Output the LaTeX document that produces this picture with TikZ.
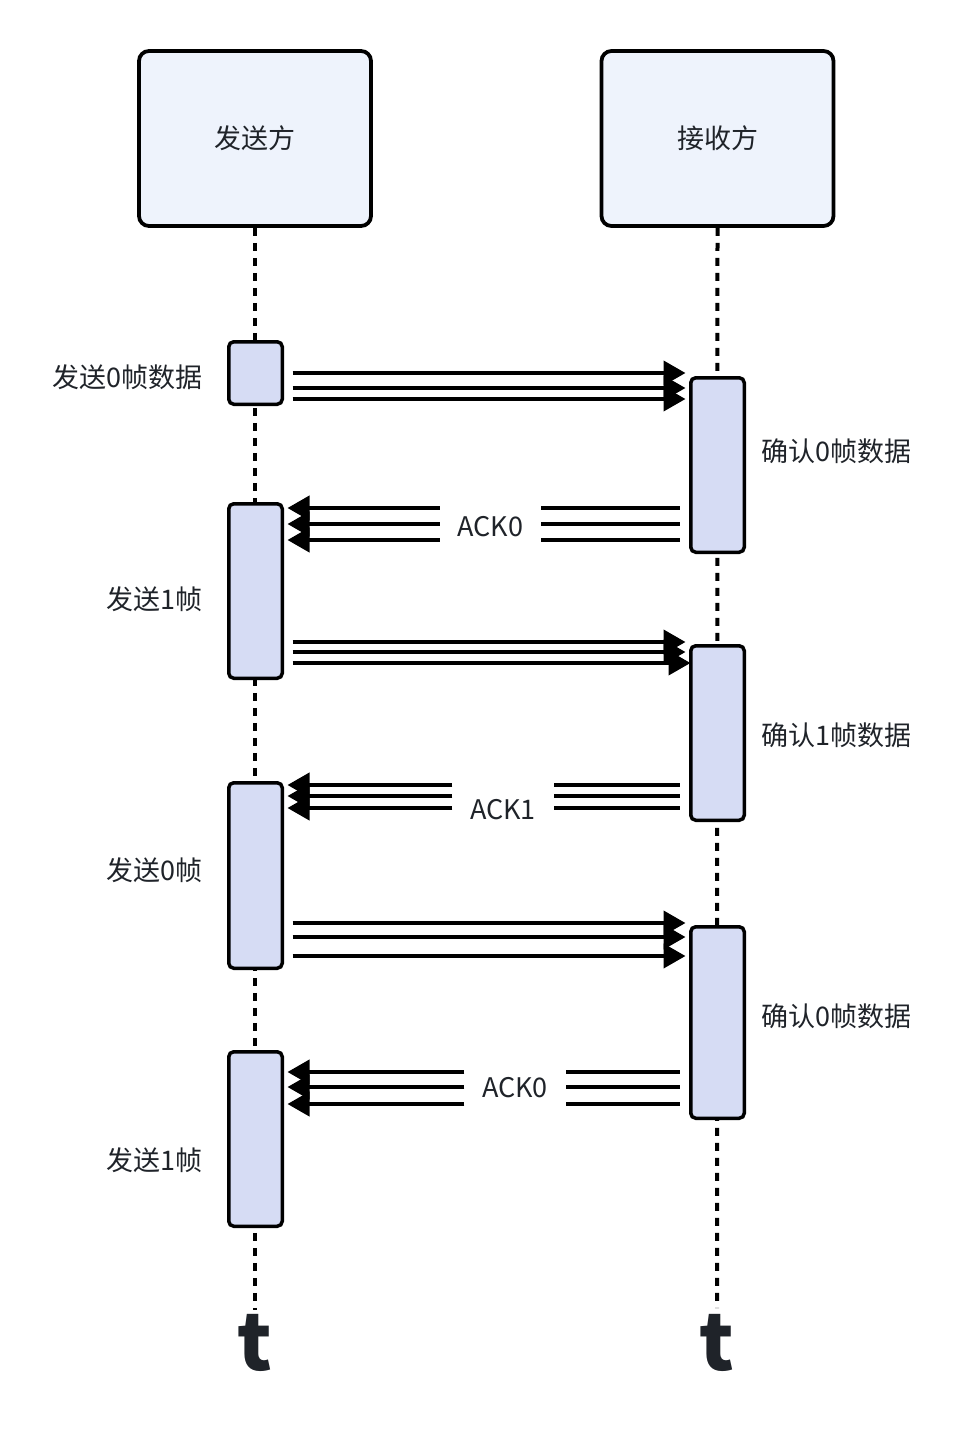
\documentclass[tikz,border=0pt]{standalone}
\usepackage{fontspec}
\setmainfont{Noto Sans CJK SC}
\usetikzlibrary{arrows.meta,calc,backgrounds}
\definecolor{headfill}{HTML}{EEF3FC}
\definecolor{actfill}{HTML}{D6DCF4}
\definecolor{txt}{HTML}{1F2329}
\begin{document}
\begin{tikzpicture}[x=1pt,y=-1pt,
 head/.style={draw=black,line width=3.8pt,rounded corners=10pt,fill=headfill,minimum width=232pt,minimum height=175pt,inner sep=0pt,font=\fontsize{27}{32}\selectfont,text=txt},
 act/.style={draw=black,line width=3.5pt,rounded corners=5pt,fill=actfill,minimum width=53.5pt,inner sep=0pt},
 life/.style={line width=4pt,dash pattern=on 8pt off 7pt},
 msg/.style={line width=4pt,-{Triangle[length=22pt,width=24pt]}},
 seg/.style={line width=4pt},
 lbl/.style={font=\fontsize{27}{32}\selectfont,text=txt,inner sep=0pt},
 ack/.style={font=\fontsize{27}{32}\selectfont,text=txt,inner sep=0pt,minimum width=101pt},
 tt/.style={font=\bfseries\fontsize{78}{80}\selectfont,text=txt,inner sep=0pt}]
\useasboundingbox (0,0) rectangle (966,1440);
% headers
\node[head] (S) at (255,138.5) {\raisebox{-2pt}{发送方}};
\node[head] (R) at (717.5,138.5) {\raisebox{-2pt}{接收方}};
% activation boxes
\node[act,minimum height=62.5pt] (L1) at (255.5,373) {};
\node[act,minimum height=174.5pt] (L2) at (255.5,591) {};
\node[act,minimum height=185.5pt] (L3) at (255.5,875.5) {};
\node[act,minimum height=174.5pt] (L4) at (255.5,1139) {};
\node[act,minimum height=174.5pt] (R1) at (717.5,465) {};
\node[act,minimum height=174.5pt] (R2) at (717.5,733) {};
\node[act,minimum height=191.5pt] (R3) at (717.5,1022.5) {};
% end coordinates of lifelines
\coordinate (SE) at (255,1310);
\coordinate (RE) at (717,1308);
% labels
\node[lbl,anchor=east] (t1) at (203,377) {发送0帧数据};
\node[lbl,anchor=west] (t2) at (761,451) {确认0帧数据};
\node[lbl,anchor=east] (t3) at (203,599) {发送1帧};
\node[lbl,anchor=west] (t4) at (761,735) {确认1帧数据};
\node[lbl,anchor=east] (t5) at (203,870) {发送0帧};
\node[lbl,anchor=west] (t6) at (761,1016) {确认0帧数据};
\node[lbl,anchor=east] (t7) at (203,1160) {发送1帧};
% ack labels
\node[ack] (A1) at (490.5,527) {ACK0};
\node[ack] (A2) at (503,810) {ACK1};
\node[ack] (A3) at (515,1088) {ACK0};
% time labels
\node[tt] (T1) at (255,1343) {t};
\node[tt] (T2) at (717,1343) {t};
\begin{scope}[on background layer]
\draw[life] (S.south) -- (SE);
\draw[life] (R.south) -- (RE);
% group 1 send
\foreach \yy in {373,388,399}{
  \draw[msg] ($(L1.east|-0,\yy)+(8.5,0)$) -- ($(R1.west|-0,\yy)+(-3.5,0)$);
}
% ack 0
\foreach \yy in {508,524,540}{
  \draw[seg] ($(R1.west|-0,\yy)+(-9.5,0)$) -- (A1.east|-0,\yy);
  \draw[msg] (A1.west|-0,\yy) -- ($(L2.east|-0,\yy)+(3.5,0)$);
}
% group 2 send
\draw[msg] ($(L2.east|-0,642)+(8.5,0)$) -- ($(R2.west|-0,642)+(-3.5,0)$);
\draw[msg] ($(L2.east|-0,652)+(8.5,0)$) -- ($(R2.west|-0,652)+(-3.5,0)$);
\draw[msg] ($(L2.east|-0,663)+(8.5,0)$) -- ($(R2.west|-0,663)+(1.5,0)$);
% ack 1
\foreach \yy in {785,796,808}{
  \draw[seg] ($(R2.west|-0,\yy)+(-9.5,0)$) -- (A2.east|-0,\yy);
  \draw[msg] (A2.west|-0,\yy) -- ($(L3.east|-0,\yy)+(3.5,0)$);
}
% group 3 send
\foreach \yy in {923,937,956}{
  \draw[msg] ($(L3.east|-0,\yy)+(8.5,0)$) -- ($(R3.west|-0,\yy)+(-3.5,0)$);
}
% ack 0 again
\foreach \yy in {1072,1087,1104}{
  \draw[seg] ($(R3.west|-0,\yy)+(-9.5,0)$) -- (A3.east|-0,\yy);
  \draw[msg] (A3.west|-0,\yy) -- ($(L4.east|-0,\yy)+(3.5,0)$);
}
\end{scope}
\end{tikzpicture}
\end{document}
